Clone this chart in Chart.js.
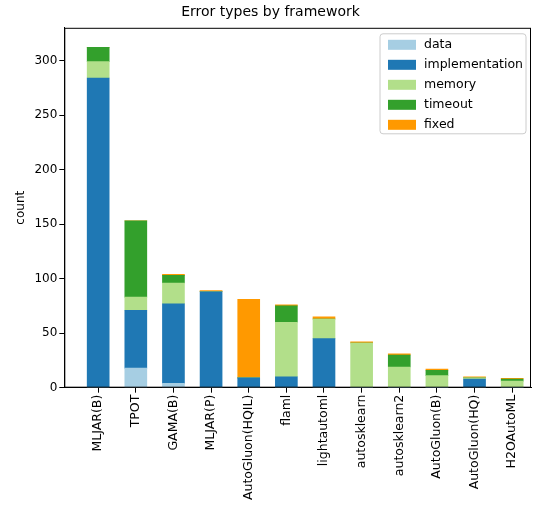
<!DOCTYPE html>
<html><head><meta charset="utf-8">
<script src="https://cdn.jsdelivr.net/npm/chart.js@4"></script>
<style>body{margin:0;background:#fff}#wrap{width:539px;height:510px}</style>
</head><body><div id="wrap"><canvas id="c"></canvas></div>
<script>
var frameworks = ['MLJAR(B)','TPOT','GAMA(B)','MLJAR(P)','AutoGluon(HQIL)','flaml','lightautoml','autosklearn','autosklearn2','AutoGluon(B)','AutoGluon(HQ)','H2OAutoML'];
var dataErr =        [0, 18, 4, 0, 0, 0, 0, 0, 0, 0, 0, 0];
var implementation = [284, 53, 73, 88, 9, 10, 45, 0, 0, 0, 8, 0];
var memory =         [15, 12, 19, 0, 0, 50, 18, 41, 19, 11, 1, 6];
var timeout =        [13, 70, 7, 0, 0, 15, 0, 0, 11, 5, 0, 2];
var fixed =          [0, 0, 1, 1, 72, 1, 2, 1, 1, 1, 1, 0.5];

var FONT = 'DejaVu Sans';

function ds(label, data, color) {
    return {
        label: label,
        data: data.map(function (v, i) { return { x: i, y: v }; }),
        backgroundColor: color,
        barThickness: 22
    };
}

// matplotlib style frame + legend box
var framePlugin = {
    id: 'frame',
    afterDraw: function (chart) {
        var a = chart.chartArea, ctx = chart.ctx;
        ctx.save();
        ctx.strokeStyle = '#000';
        ctx.lineWidth = 1;
        ctx.strokeRect(a.left + 0.5, a.top + 0.5, a.right - a.left - 1, a.bottom - a.top - 1);

        var sets = chart.data.datasets;
        var bw = 146, bh = 100, x0 = a.right - bw - 5, y0 = a.top + 6;
        ctx.fillStyle = 'rgba(255,255,255,0.8)';
        ctx.strokeStyle = '#ccc';
        ctx.beginPath();
        ctx.roundRect(x0, y0, bw, bh, 3);
        ctx.fill();
        ctx.stroke();
        ctx.font = '12.5px ' + FONT;
        ctx.textBaseline = 'middle';
        sets.forEach(function (s, i) {
            var cy = y0 + 11 + i * 20;
            ctx.fillStyle = s.backgroundColor;
            ctx.fillRect(x0 + 8, cy - 5, 28, 10);
            ctx.fillStyle = '#000';
            ctx.fillText(s.label, x0 + 44, cy);
        });
        ctx.restore();
    }
};

new Chart(document.getElementById('c'), {
    type: 'bar',
    data: {
        datasets: [
            ds('data', dataErr, '#a6cee3'),
            ds('implementation', implementation, '#1f78b4'),
            ds('memory', memory, '#b2df8a'),
            ds('timeout', timeout, '#33a02c'),
            ds('fixed', fixed, '#ff9900')
        ]
    },
    plugins: [framePlugin],
    options: {
        animation: false,
        responsive: true,
        maintainAspectRatio: false,
        layout: { padding: { left: 10, right: 8, top: 0, bottom: 8 } },
        scales: {
            x: {
                type: 'linear',
                stacked: true,
                offset: false,
                min: -0.9,
                max: 11.5,
                afterBuildTicks: function (axis) {
                    axis.ticks = frameworks.map(function (f, i) { return { value: i }; });
                },
                grid: { drawOnChartArea: false, tickLength: 5, offset: false, color: '#000' },
                border: { color: '#000' },
                ticks: { color: '#000', maxRotation: 90, minRotation: 90, padding: 2, autoSkip: false,
                    font: { family: FONT, size: 12.5 },
                    callback: function (v) { return frameworks[v]; } }
            },
            y: {
                stacked: true,
                min: 0,
                max: 330,
                grid: { drawOnChartArea: false, tickLength: 5,
                    color: function (c) { return c.tick && c.tick.value % 50 === 0 ? '#000' : 'rgba(0,0,0,0)'; } },
                border: { color: '#000' },
                ticks: { color: '#000', stepSize: 50, padding: 2, font: { family: FONT, size: 12 },
                    callback: function (v) { return v % 50 === 0 ? v : ''; } },
                title: { display: true, text: 'count', color: '#000', font: { family: FONT, size: 12 } }
            }
        },
        plugins: {
            title: { display: true, text: 'Error types by framework', color: '#000', font: { family: FONT, size: 14, weight: 'normal' }, padding: { top: 4, bottom: 7 } },
            legend: { display: false },
            tooltip: { enabled: false }
        }
    }
});
</script></body></html>
